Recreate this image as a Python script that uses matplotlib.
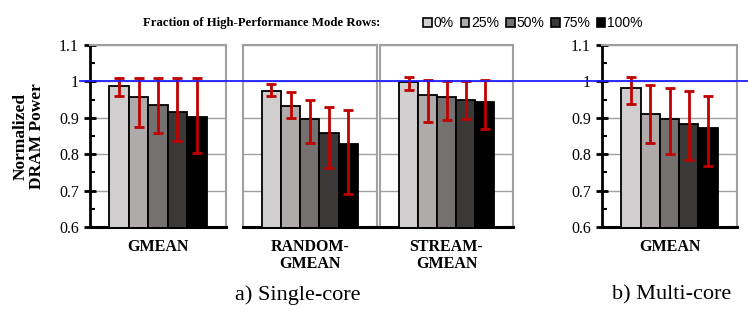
import numpy as np
import matplotlib
matplotlib.use("Agg")
import matplotlib.pyplot as plt
from matplotlib.lines import Line2D
from matplotlib.transforms import blended_transform_factory

plt.rcParams['font.family'] = ['Liberation Serif', 'DejaVu Serif']

series = ["0%", "25%", "50%", "75%", "100%"]
colors = ["#D0CECE", "#AFABAB", "#767171", "#3B3838", "#000000"]

panels = ["GMEAN", "RANDOM-\nGMEAN", "STREAM-\nGMEAN", "GMEAN"]

# bar heights and error ranges (low, high) per panel
values = [
    [0.986, 0.956, 0.934, 0.915, 0.901],
    [0.975, 0.932, 0.898, 0.858, 0.827],
    [0.997, 0.962, 0.956, 0.950, 0.943],
    [0.982, 0.911, 0.897, 0.884, 0.873],
]
err_low = [
    [0.960, 0.876, 0.858, 0.835, 0.804],
    [0.961, 0.900, 0.831, 0.761, 0.692],
    [0.977, 0.889, 0.894, 0.897, 0.868],
    [0.938, 0.831, 0.800, 0.784, 0.768],
]
err_high = [
    [1.009, 1.009, 1.008, 1.008, 1.008],
    [0.993, 0.970, 0.949, 0.930, 0.922],
    [1.013, 1.003, 1.001, 1.001, 1.003],
    [1.012, 0.989, 0.981, 0.973, 0.961],
]

W, H = 748, 318
fig = plt.figure(figsize=(W / 100, H / 100), dpi=100)

# axes boxes in pixels: (left, right)
boxes = [(90, 226), (242.5, 377), (380, 513), (602, 737)]
top_px, bot_px = 45, 227

axes = []
for i, (l, r) in enumerate(boxes):
    ax = fig.add_axes([l / W, (H - bot_px) / H, (r - l) / W, (bot_px - top_px) / H])
    axes.append(ax)
    x = np.arange(5)
    v = np.array(values[i])
    lo = v - np.array(err_low[i])
    hi = np.array(err_high[i]) - v
    ax.bar(x, v, width=1.0, color=colors, edgecolor="black", linewidth=1.3, zorder=3)
    ax.errorbar(x, v, yerr=[lo, hi], fmt="none", ecolor="#C00000", elinewidth=2,
                capsize=3.5, capthick=2, zorder=4)
    ax.set_xlim(-1.5, 5.5)
    ax.set_ylim(0.6, 1.1)
    ax.set_xticks([])
    ax.yaxis.grid(True, color="#A0A0A0", linewidth=1, zorder=0)
    ax.set_axisbelow(True)
    for s in ["top", "right", "left"]:
        ax.spines[s].set_color("#A0A0A0")
        ax.spines[s].set_linewidth(1.5)
    ax.spines["bottom"].set_color("black")
    ax.spines["bottom"].set_linewidth(2.2)
    ax.text(0.5, -0.065, panels[i], transform=ax.transAxes, ha="center", va="top",
            fontsize=11.5, fontweight="bold", linespacing=1.1)
    if i in (0, 3):
        ax.spines["left"].set_color("black")
        ax.spines["left"].set_linewidth(2)
        ax.set_yticks([0.6, 0.7, 0.8, 0.9, 1.0, 1.1])
        ax.set_yticklabels(["0.6", "0.7", "0.8", "0.9", "1", "1.1"])
        ax.set_yticks(np.arange(0.65, 1.1, 0.1), minor=True)
        ax.tick_params(axis="y", which="major", direction="inout", length=8, width=2,
                       labelsize=11.5, pad=4)
        ax.tick_params(axis="y", which="minor", direction="in", length=3.5, width=1.5)
    else:
        ax.tick_params(axis="y", which="both", left=False, labelleft=False)

axes[0].set_ylabel("Normalized\nDRAM Power", fontsize=12.5, fontweight="bold",
                   labelpad=10, linespacing=1.0)

# reference line at 1.0 across the whole figure
tr = blended_transform_factory(fig.transFigure, axes[0].transData)
fig.add_artist(Line2D([80 / W, 1.0], [1.0, 1.0], transform=tr, color="#1F1FFF",
                      linewidth=1.3, zorder=5))

# sub-captions
fig.text(297.5 / W, 1 - 295 / H, "a) Single-core", ha="center", va="center", fontsize=16)
fig.text(671.7 / W, 1 - 295 / H, "b) Multi-core", ha="center", va="center", fontsize=16)

# legend
fig.text(261.5 / W, 1 - 23 / H, "Fraction of High-Performance Mode Rows:", ha="center",
         va="center", fontsize=9.2, fontweight="bold")
handles = [plt.Rectangle((0, 0), 1, 1, facecolor=c, edgecolor="black", linewidth=1.2)
           for c in colors]
fig.legend(handles, series, loc="center", bbox_to_anchor=(533 / W, 1 - 23 / H), ncol=5,
           frameon=False, handlelength=0.6, handleheight=0.6, handletextpad=0.15,
           columnspacing=0.5, borderaxespad=0, borderpad=0,
           prop={"family": "Liberation Sans", "size": 10})

fig.savefig("out.png", dpi=100)
